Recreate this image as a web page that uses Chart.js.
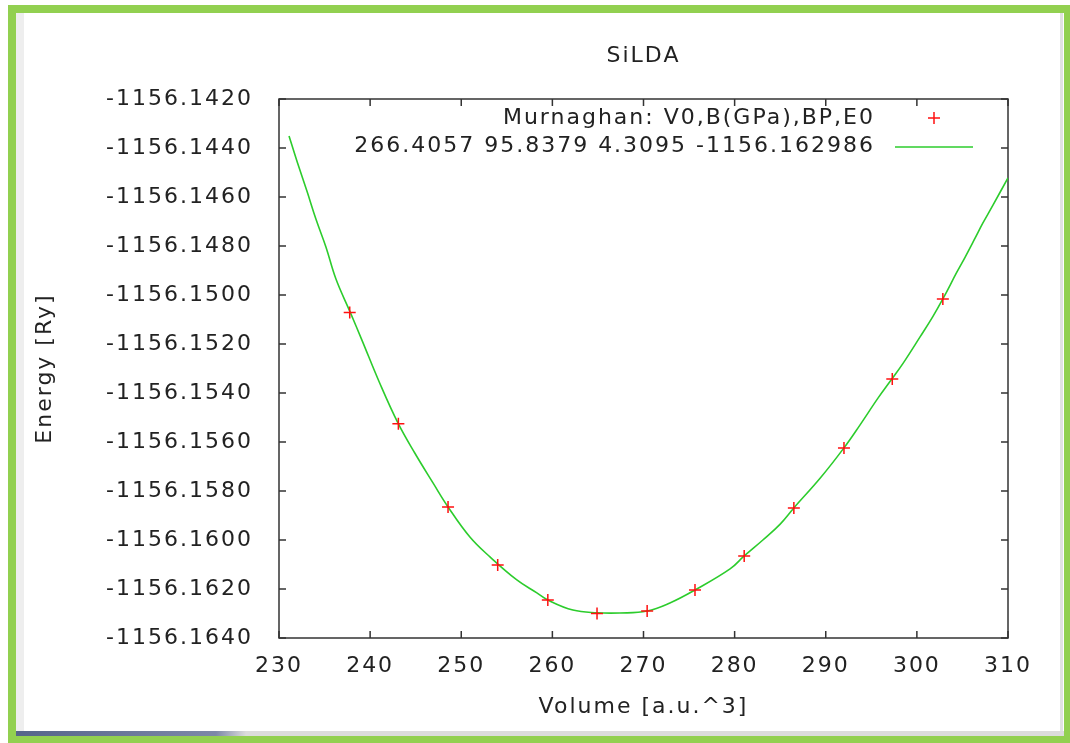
<!DOCTYPE html>
<html>
<head>
<meta charset="utf-8">
<script src="https://cdn.jsdelivr.net/npm/chart.js@4.4.1/dist/chart.umd.min.js"></script>
<style>
  body { margin: 0; background: #ffffff; }
  #frame { position: absolute; left: 8px; top: 5px; width: 1062px; height: 738px; background: #92d050; }
  #inner { position: absolute; left: 16px; top: 13px; width: 1048px; height: 723px; background: #ffffff; }
  #leftStrip { position: absolute; left: 16px; top: 13px; width: 8px; height: 720px; background: #eeeeee; }
  #rightStrip { position: absolute; left: 1060px; top: 13px; width: 3px; height: 720px; background: #e2e2e2; }
  #bottomStrip { position: absolute; left: 16px; top: 731px; width: 1048px; height: 5px;
    background: linear-gradient(to right, #55648a 0px, #7d88a8 200px, #dcdcdc 230px, #dcdcdc 100%); }
  #chart { position: absolute; left: 0; top: 0; }
</style>
</head>
<body>
<div id="frame"></div>
<div id="inner"></div>
<div id="leftStrip"></div>
<div id="rightStrip"></div>
<div id="bottomStrip"></div>
<canvas id="chart" width="1070" height="743"></canvas>
<script>
// measured energies
var volumes = [237.76, 243.1, 248.55, 254.0, 259.5, 264.9, 270.4, 275.65, 281.05, 286.5, 292.0, 297.3, 302.85];
var energies = [-1156.15071, -1156.15525, -1156.15865, -1156.16102, -1156.16245, -1156.16300, -1156.16290,
    -1156.16204, -1156.16065, -1156.15869, -1156.15624, -1156.15343, -1156.15016];

// fitted Murnaghan curve
var fitVolumes = [231.1, 232.0, 233.1, 234.05, 235.15, 236.25, 237.8, 239.1, 241.0, 243.05, 244.9, 246.9,
    248.55, 250.95, 253.15, 256.1, 258.3, 259.5, 262.25, 264.9, 267.4, 270.4, 272.9, 275.65, 279.5, 281.05,
    283.1, 285.0, 286.5, 289.4, 292.0, 293.75, 295.75, 297.25, 298.5, 300.35, 301.75, 302.85, 304.4, 305.3,
    306.4, 307.25, 308.35, 310.0];
var fitEnergies = [-1156.14351, -1156.14457, -1156.14580, -1156.14690, -1156.14804, -1156.14935, -1156.15069,
    -1156.15184, -1156.15355, -1156.15522, -1156.15645, -1156.15767, -1156.15865, -1156.15988, -1156.16069,
    -1156.16163, -1156.16216, -1156.16245, -1156.16286, -1156.16297, -1156.16298, -1156.16290, -1156.16257,
    -1156.16204, -1156.16118, -1156.16065, -1156.16000, -1156.15935, -1156.15869, -1156.15747, -1156.15624,
    -1156.15531, -1156.15420, -1156.15343, -1156.15278, -1156.15171, -1156.15088, -1156.15016, -1156.14906,
    -1156.14845, -1156.14767, -1156.14706, -1156.14633, -1156.14522];

var xTicks = [230, 240, 250, 260, 270, 280, 290, 300, 310];
var yTicks = [-1156.142, -1156.144, -1156.146, -1156.148, -1156.150, -1156.152, -1156.154,
    -1156.156, -1156.158, -1156.160, -1156.162, -1156.164];

var pointsLabel = 'Murnaghan: V0,B(GPa),BP,E0';
var fitLabel = '266.4057 95.8379 4.3095 -1156.162986';

Chart.defaults.font.family = "'DejaVu Sans', sans-serif";
Chart.defaults.font.size = 22;
Chart.defaults.color = '#222222';

function spacing(chart) {
    chart.ctx.letterSpacing = '2px';
}

// gnuplot style box, inward ticks and the key in the top right corner
var gnuplotBox = {
    id: 'gnuplotBox',
    beforeLayout: spacing,
    beforeDraw: spacing,
    afterLayout(chart) {
        // centre the title over the plot area like gnuplot does
        if (chart.titleBlock) {
            chart.titleBlock.left = chart.chartArea.left;
            chart.titleBlock.right = chart.chartArea.right;
        }
    },
    beforeDatasetsDraw(chart) {
        var ctx = chart.ctx;
        var a = chart.chartArea;
        var xs = chart.scales.x, ys = chart.scales.y;
        ctx.save();
        ctx.strokeStyle = '#333333';
        ctx.lineWidth = 1.5;
        ctx.strokeRect(a.left, a.top, a.right - a.left, a.bottom - a.top);
        ctx.beginPath();
        yTicks.forEach(v => {
            var py = ys.getPixelForValue(v);
            ctx.moveTo(a.left, py); ctx.lineTo(a.left + 7, py);
            ctx.moveTo(a.right, py); ctx.lineTo(a.right - 7, py);
        });
        xTicks.forEach(v => {
            var px = xs.getPixelForValue(v);
            ctx.moveTo(px, a.bottom); ctx.lineTo(px, a.bottom - 7);
            ctx.moveTo(px, a.top); ctx.lineTo(px, a.top + 7);
        });
        ctx.stroke();
        ctx.restore();
    },
    afterDraw(chart) {
        var ctx = chart.ctx;
        var a = chart.chartArea;
        var ds = chart.data.datasets;
        var textRight = a.right - 133;
        var row1 = a.top + 19, row2 = a.top + 47;
        ctx.save();
        ctx.letterSpacing = '2px';
        ctx.font = "22px 'DejaVu Sans', sans-serif";
        ctx.fillStyle = '#222222';
        ctx.textAlign = 'right';
        ctx.textBaseline = 'middle';
        ctx.fillText(ds[0].label, textRight, row1);
        ctx.fillText(ds[1].label, textRight, row2);
        var sx = a.right - 74;
        ctx.strokeStyle = ds[0].borderColor;
        ctx.lineWidth = ds[0].borderWidth;
        ctx.beginPath();
        ctx.moveTo(sx - 6, row1); ctx.lineTo(sx + 6, row1);
        ctx.moveTo(sx, row1 - 6); ctx.lineTo(sx, row1 + 6);
        ctx.stroke();
        ctx.strokeStyle = ds[1].borderColor;
        ctx.lineWidth = ds[1].borderWidth;
        ctx.beginPath();
        ctx.moveTo(a.right - 113, row2 + 1);
        ctx.lineTo(a.right - 35, row2 + 1);
        ctx.stroke();
        ctx.restore();
    }
};

var ctx = document.getElementById('chart').getContext('2d');
new Chart(ctx, {
    type: 'scatter',
    data: {
        datasets: [{
            label: pointsLabel,
            data: volumes.map((v, i) => ({x: v, y: energies[i]})),
            pointStyle: 'cross',
            pointRadius: 6,
            borderColor: '#ff1010',
            backgroundColor: '#ff1010',
            borderWidth: 1.5
        }, {
            label: fitLabel,
            data: fitVolumes.map((v, i) => ({x: v, y: fitEnergies[i]})),
            showLine: true,
            pointRadius: 0,
            borderColor: '#2ccc2c',
            borderWidth: 1.6,
            tension: 0.4
        }]
    },
    plugins: [gnuplotBox],
    options: {
        responsive: false,
        animation: false,
        events: [],
        layout: {
            padding: {left: 0, right: 62, top: 0, bottom: 0}
        },
        plugins: {
            legend: {display: false},
            tooltip: {enabled: false},
            title: {
                display: true,
                text: 'SiLDA',
                color: '#222222',
                font: {size: 22, weight: 'normal'},
                padding: {top: 43, bottom: 29.6}
            }
        },
        scales: {
            x: {
                type: 'linear',
                min: 230,
                max: 310,
                grid: {display: false, drawTicks: false},
                border: {display: false},
                afterBuildTicks: function(scale) {
                    scale.ticks = xTicks.map(v => ({value: v}));
                },
                afterFit: function(scale) {
                    scale.height = 105;
                },
                ticks: {padding: 15, maxRotation: 0},
                title: {
                    display: true,
                    text: 'Volume [a.u.^3]',
                    padding: {top: 0, bottom: 23}
                }
            },
            y: {
                type: 'linear',
                min: -1156.164,
                max: -1156.142,
                grid: {display: false, drawTicks: false},
                border: {display: false},
                afterBuildTicks: function(scale) {
                    scale.ticks = yTicks.map(v => ({value: v}));
                },
                afterFit: function(scale) {
                    scale.width = 279;
                },
                ticks: {
                    padding: 26,
                    callback: function(value) {
                        return value.toFixed(4);
                    }
                },
                title: {
                    display: true,
                    text: 'Energy [Ry]',
                    padding: {top: 32, bottom: 0}
                }
            }
        }
    }
});
</script>
</body>
</html>
